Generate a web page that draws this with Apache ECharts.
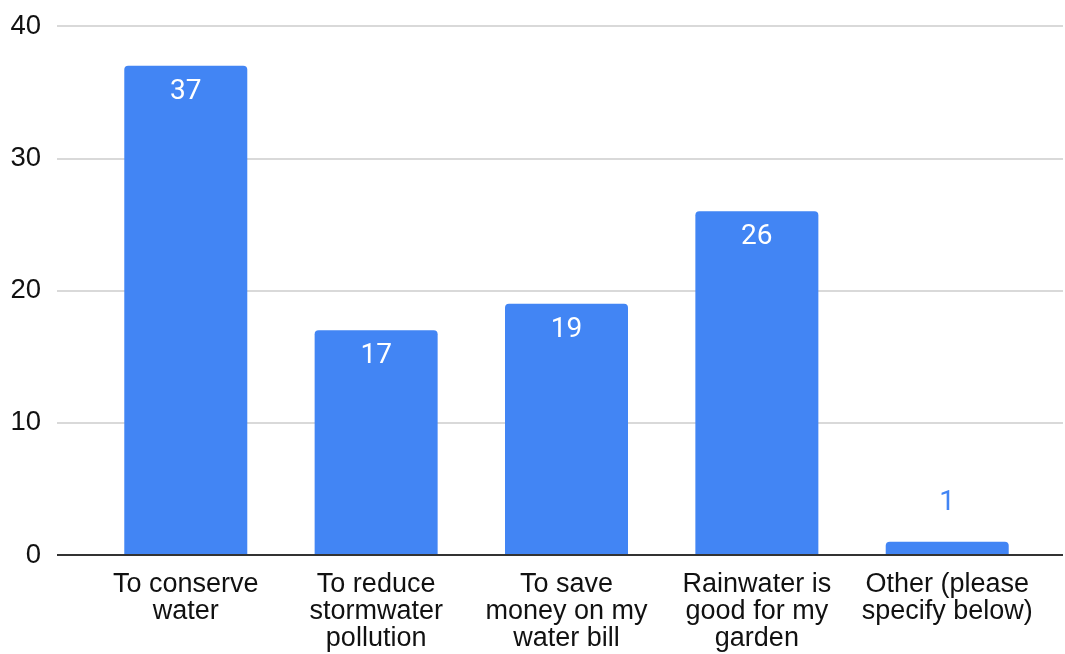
<!DOCTYPE html>
<html><head><meta charset="utf-8">
<script src="https://cdn.jsdelivr.net/npm/echarts@6/dist/echarts.min.js"></script>
<style>html,body{margin:0;padding:0;background:#fff}#c{width:1065px;height:654px}</style>
</head><body><div id="c"></div>
<script>
const categories = ["To conserve\nwater", "To reduce\nstormwater\npollution", "To save\nmoney on my\nwater bill", "Rainwater is\ngood for my\ngarden", "Other (please\nspecify below)"];
const values = [37, 17, 19, 26, 1];
const yTicks = [0, 10, 20, 30, 40];

const chart = echarts.init(document.getElementById('c'), null, {renderer: 'canvas'});
const axisFont = '"Liberation Sans", Arial, Helvetica, sans-serif';
chart.setOption({
  animation: false,
  grid: [
    {left: 57, right: 2, top: 26, bottom: 99, containLabel: false},
    {left: 90.6, right: 22.6, top: 26, bottom: 99, containLabel: false}
  ],
  xAxis: [
    {gridIndex: 0, type: 'category', data: categories, show: false},
    {gridIndex: 1, type: 'category', data: categories,
     axisLine: {show: false}, axisTick: {show: false},
     axisLabel: {color: '#111', fontSize: 27, fontFamily: axisFont, lineHeight: 27, margin: 16, interval: 0}}
  ],
  yAxis: [
    {gridIndex: 0, type: 'value', min: yTicks[0], max: yTicks[yTicks.length-1], interval: 10,
     axisLine: {show: false}, axisTick: {show: false},
     axisLabel: {color: '#111', fontSize: 27.5, fontFamily: axisFont, margin: 16},
     splitLine: {lineStyle: {color: '#cccccc', width: 1.5}}},
    {gridIndex: 1, type: 'value', min: yTicks[0], max: yTicks[yTicks.length-1], interval: 10, show: false}
  ],
  series: [
    {type: 'bar', xAxisIndex: 0, yAxisIndex: 0, data: [], silent: true,
     markLine: {silent: true, symbol: 'none', label: {show: false},
       lineStyle: {color: '#333333', width: 2, type: 'solid'}, data: [{yAxis: 0}]}},
    {type: 'bar', xAxisIndex: 1, yAxisIndex: 1, barWidth: 123,
     itemStyle: {color: '#4285F4', borderRadius: [4, 4, 0, 0]},
     data: values.map(v => v < 5 ? {value: v, label: {position: 'top', color: '#4285F4', distance: 25}} : v),
     label: {show: true, position: 'insideTop', distance: 12, color: '#ffffff', fontSize: 28,
       fontFamily: 'Roboto, "Liberation Sans", sans-serif'}}
  ]
});
</script></body></html>
